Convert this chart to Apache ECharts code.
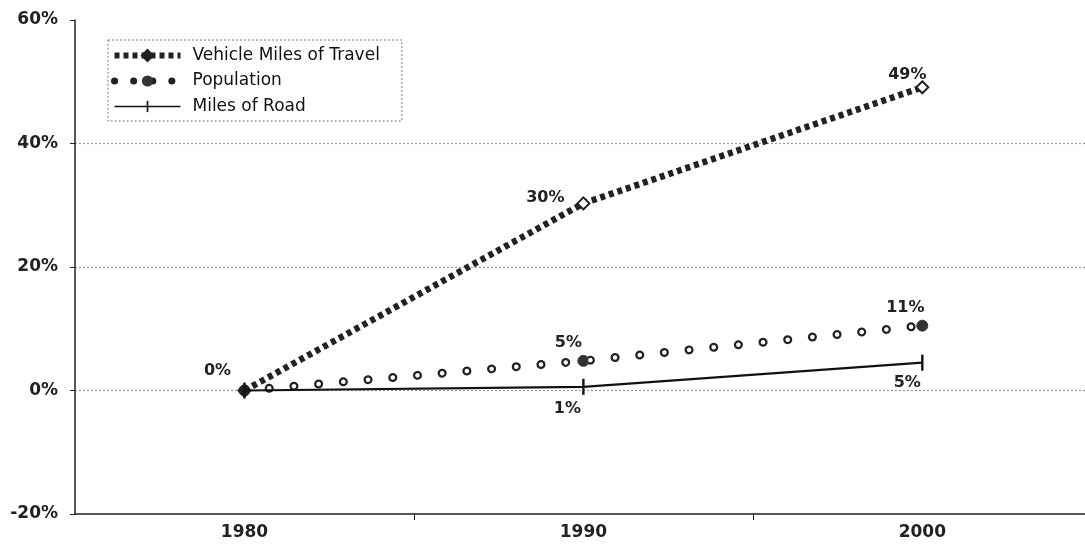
<!DOCTYPE html>
<html>
<head>
<meta charset="utf-8">
<script src="https://cdn.jsdelivr.net/npm/echarts@6/dist/echarts.min.js"></script>
<style>html,body{margin:0;padding:0;background:#fff;}#c{width:1085px;height:550px;}</style>
</head>
<body>
<div id="c"></div>
<script>
var years = [1980, 1990, 2000];
var vmt = [0, 30.3, 49.1];
var population = [0, 4.8, 10.5];
var road = [0, 0.6, 4.5];
var yTicks = [-20, 0, 20, 40, 60];
var xLabels = [1980, 1990, 2000];
var xTicks = [1985, 1995];

var FONT = '"DejaVu Sans", "Liberation Sans", Arial, sans-serif';
var vmtOff = [[-27, -20], [-38, -6], [-15, -12]];
var popOff = [null, [-15, -18], [-17, -18]];
var roadOff = [null, [-16, 22], [-15, 20]];

function pts(vals, offs, extra) {
  return vals.map(function (v, i) {
    var item = { value: [years[i], v] };
    if (offs[i]) {
      item.label = { show: true, position: 'inside', offset: offs[i] };
    } else {
      item.label = { show: false };
    }
    if (extra) extra(item, i);
    return item;
  });
}
var labelBase = {
  show: false,
  formatter: function (p) { return Math.round(p.value[1]) + '%'; },
  fontFamily: FONT, fontWeight: 'bold', fontSize: 16, color: '#222',
  align: 'center', verticalAlign: 'middle'
};

var chart = echarts.init(document.getElementById('c'));
chart.setOption({
  animation: false,
  backgroundColor: '#fff',
  grid: { left: 75, right: 0, top: 20, bottom: 36 },
  legend: {
    left: 108, top: 40, orient: 'vertical',
    itemWidth: 66, itemHeight: 14, itemGap: 8.5,
    padding: [7, 22, 6, 3],
    borderColor: '#777', borderWidth: 1, borderType: [2, 2],
    textStyle: { fontFamily: FONT, fontSize: 17, color: '#111', padding: [0, 0, 0, 7] },
    data: [
      { name: 'Vehicle Miles of Travel', itemStyle: { color: '#222', borderColor: '#222' }, lineStyle: { width: 6, type: [5, 4], color: '#222' } },
      { name: 'Population', lineStyle: { width: 7, type: [0.1, 19], cap: 'round', color: '#222' } },
      { name: 'Miles of Road', lineStyle: { width: 1.5, color: '#111' } }
    ]
  },
  xAxis: {
    type: 'value', min: 1975, max: 2004.8,
    splitLine: { show: false },
    axisLine: { show: true, onZero: false, lineStyle: { color: '#222', width: 1.5 } },
    axisTick: { show: true, customValues: xTicks, length: 6, lineStyle: { color: '#222' } },
    axisLabel: { customValues: xLabels, fontFamily: FONT, fontWeight: 'bold', fontSize: 17, color: '#222', margin: 10, formatter: function (v) { return String(v); } }
  },
  yAxis: {
    type: 'value', min: -20, max: 60, interval: 20,
    axisLine: { show: true, lineStyle: { color: '#222', width: 1.5 } },
    axisTick: { show: true, length: 5, lineStyle: { color: '#222' } },
    axisLabel: { fontFamily: FONT, fontWeight: 'bold', fontSize: 17, color: '#222', margin: 17, formatter: '{value}%' },
    splitLine: { show: true, showMaxLine: false, showMinLine: false, lineStyle: { color: '#999', width: 1.2, type: [2, 2] } }
  },
  series: [
    {
      name: 'Vehicle Miles of Travel', type: 'line', z: 3,
      data: pts(vmt, vmtOff, function (item, i) {
        item.itemStyle = { color: i === 0 ? '#222' : '#fff', borderColor: '#222', borderWidth: 2 };
      }),
      symbol: 'diamond', symbolSize: 12,
      lineStyle: { color: '#222', width: 6.5, type: [5, 4], cap: 'butt' },
      itemStyle: { color: '#fff', borderColor: '#222', borderWidth: 2 },
      label: labelBase
    },
    {
      name: 'Population', type: 'line', z: 2,
      data: pts(population, popOff),
      symbol: 'circle', symbolSize: 11,
      lineStyle: { color: '#222', width: 9, type: [0.1, 24.7], cap: 'round' },
      itemStyle: { color: '#333', borderColor: '#333' },
      label: labelBase
    },
    {
      name: 'PopulationInner', type: 'line', z: 2.5,
      data: population.map(function (v, i) { return [years[i], v]; }),
      symbol: 'none', silent: true,
      lineStyle: { color: '#fff', width: 4.5, type: [0.1, 24.7], cap: 'round' },
      label: { show: false }
    },
    {
      name: 'Miles of Road', type: 'line', z: 4,
      data: pts(road, roadOff),
      symbol: 'path://M0,0 M20,20 M8.5,0h3v20h-3z', symbolSize: 16,
      lineStyle: { color: '#111', width: 2.2 },
      itemStyle: { color: '#111' },
      label: labelBase
    }
  ]
});
</script>
</body>
</html>
